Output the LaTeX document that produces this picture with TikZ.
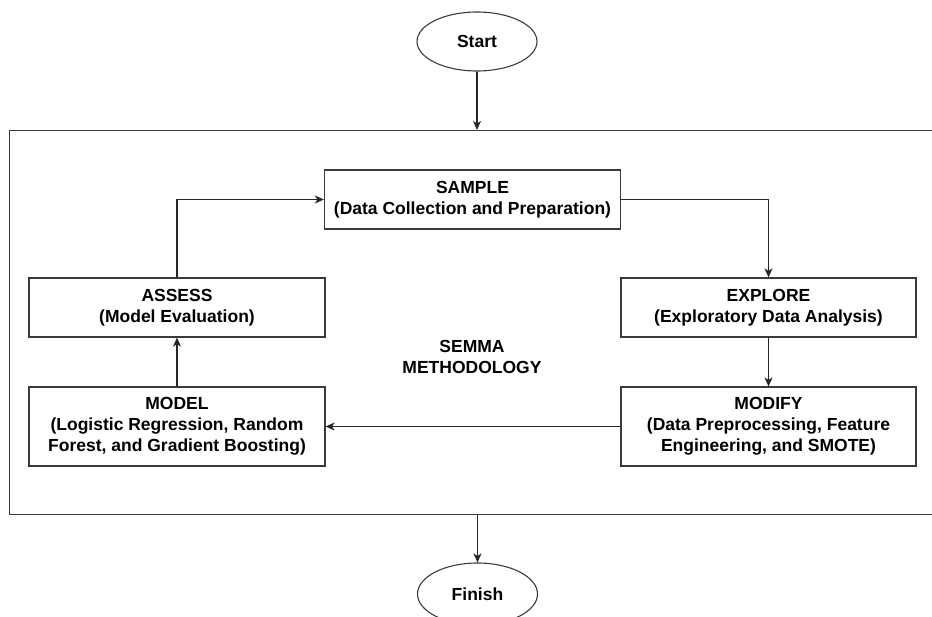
\documentclass[tikz,border=0pt]{standalone}
\usepackage{fontspec}
\setmainfont{Liberation Sans}
\usetikzlibrary{arrows.meta,shapes.geometric}
\definecolor{edge}{HTML}{3A3A3A}
\begin{document}
\begin{tikzpicture}[x=1pt,y=-1pt,
  every node/.style={font=\fontsize{17.5}{20.9}\selectfont\bfseries, align=center, inner sep=0pt},
  stepbox/.style={draw=edge, line width=1.2pt, fill=white, minimum width=296pt, minimum height=59pt},
  term/.style={ellipse, draw=edge, line width=1.1pt, minimum width=120pt, minimum height=59pt},
  conn/.style={draw=black!85, line width=1.2pt, -{Stealth[length=9pt,width=8pt,inset=2.5pt]}}]
\useasboundingbox (0,0) rectangle (932,616);
\clip (0,0) rectangle (932,616);
% outer frame
\node[draw=edge, line width=1.2pt, minimum width=940pt, minimum height=384pt, anchor=north west] (outer) at (9,130) {};
% terminals
\node[term] (start) at (477,41.5) {Start};
\node[term, minimum height=62pt] (finish) at (477.5,594) {Finish};
% steps
\node[stepbox] (sample) at (472.5,199.5) {SAMPLE\\(Data Collection and Preparation)};
\node[stepbox] (assess) at (177,307.5) {ASSESS\\(Model Evaluation)};
\node[stepbox, minimum width=295pt] (explore) at (768.5,307.5) {EXPLORE\\(Exploratory Data Analysis)};
\node[stepbox, minimum height=79pt] (model) at (177,426.5) {MODEL\\(Logistic Regression, Random\\Forest, and Gradient Boosting)};
\node[stepbox, minimum width=295pt, minimum height=79pt] (modify) at (768.5,426.5) {MODIFY\\(Data Preprocessing, Feature\\Engineering, and SMOTE)};
\node (semma) at (472,357) {SEMMA\\METHODOLOGY};
% connectors
\draw[conn] (start) -- (start |- outer.north);
\draw[conn] (sample.east) -| (explore.north);
\draw[conn] (explore) -- (modify);
\draw[conn] (modify) -- (model);
\draw[conn] (model) -- (assess);
\draw[conn] (assess.north) |- (sample.west);
\draw[conn] (finish |- outer.south) -- (finish.north);
\end{tikzpicture}
\end{document}
